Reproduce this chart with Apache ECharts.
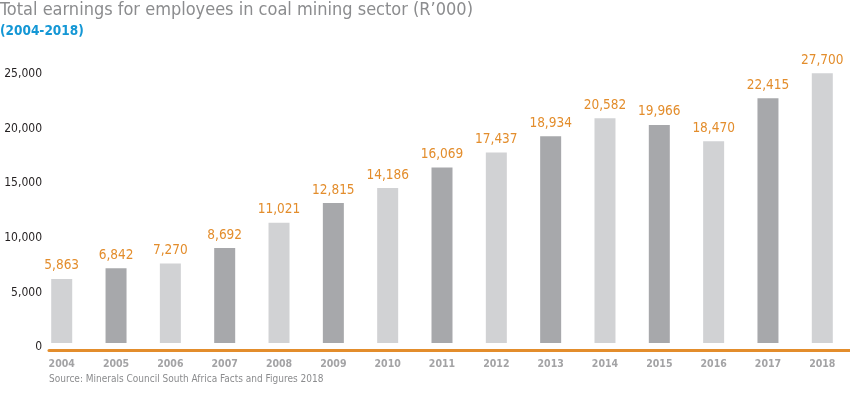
<!DOCTYPE html>
<html>
<head>
<meta charset="utf-8">
<script src="https://cdn.jsdelivr.net/npm/echarts@6/dist/echarts.min.js"></script>
<style>html,body{margin:0;padding:0;background:#fff}#c{width:850px;height:396px}</style>
</head>
<body>
<div id="c"></div>
<script>
const years = [2004,2005,2006,2007,2008,2009,2010,2011,2012,2013,2014,2015,2016,2017,2018];
// bar heights as drawn in the picture
const barValues = [5863,6842,7270,8692,11021,12815,14186,16069,17437,18934,20582,19966,18470,22415,24700];
// value labels as printed above each bar
const labelValues = ['5,863','6,842','7,270','8,692','11,021','12,815','14,186','16,069','17,437','18,934','20,582','19,966','18,470','22,415','27,700'];
const yTicks = [0,5000,10000,15000,20000,25000];
const titleText = 'Total earnings for employees in coal mining sector (R\u2019000)';
const subTitleText = '(2004-2018)';
const sourceText = 'Source: Minerals Council South Africa Facts and Figures 2018';

const FONT = '"Liberation Sans Narrow", "DejaVu Sans Condensed", sans-serif';
const light = '#d1d2d4', dark = '#a7a8ab';

const chart = echarts.init(document.getElementById('c'), null, {renderer:'canvas'});
chart.setOption({
  animation: false,
  title: [
    {text: titleText, left: -5, top: -4, textStyle:{fontFamily:FONT, fontSize:18, fontWeight:'normal', color:'#8b8c8e'}},
    {text: subTitleText, left: -5, top: 19, textStyle:{fontFamily:FONT, fontSize:13.5, fontWeight:'bold', color:'#1497d5'}},
    {text: sourceText, left: 44, top: 369, textStyle:{fontFamily:FONT, fontSize:10, fontWeight:'normal', color:'#8b8c8e'}}
  ],
  grid: {left: 49, right: 0, top: 70, bottom: 53, containLabel: false},
  xAxis: {
    type: 'value',
    min: 2003.766, max: 2018.51,
    offset: 7,
    splitLine: {show:false},
    axisTick: {show:false},
    axisLine: {show:true, onZero:false, lineStyle:{color:'#e38d2c', width:3}},
    axisLabel: {
      customValues: years,
      formatter: v => String(v),
      margin: 9,
      fontFamily: FONT, fontSize: 10.5, fontWeight: 'bold', color: '#a3a3a5'
    }
  },
  yAxis: {
    type: 'value',
    min: 0, max: 25000, interval: 5000,
    splitLine: {show:false},
    axisLine: {show:false},
    axisTick: {show:false},
    axisLabel: {
      formatter: v => v.toLocaleString('en-US'),
      margin: 7,
      verticalAlign: 'top',
      lineHeight: 8,
      fontFamily: FONT, fontSize: 12, color: '#231f20'
    }
  },
  series: [{
    type: 'bar',
    barWidth: 21,
    data: years.map((y,i) => ({
      value: [y, barValues[i]],
      itemStyle: {color: i % 2 === 0 ? light : dark}
    })),
    label: {
      show: true, position: 'top', distance: 6,
      formatter: p => labelValues[p.dataIndex],
      fontFamily: FONT, fontSize: 13.5, color: '#e38d2c'
    }
  }]
});
</script>
</body>
</html>
